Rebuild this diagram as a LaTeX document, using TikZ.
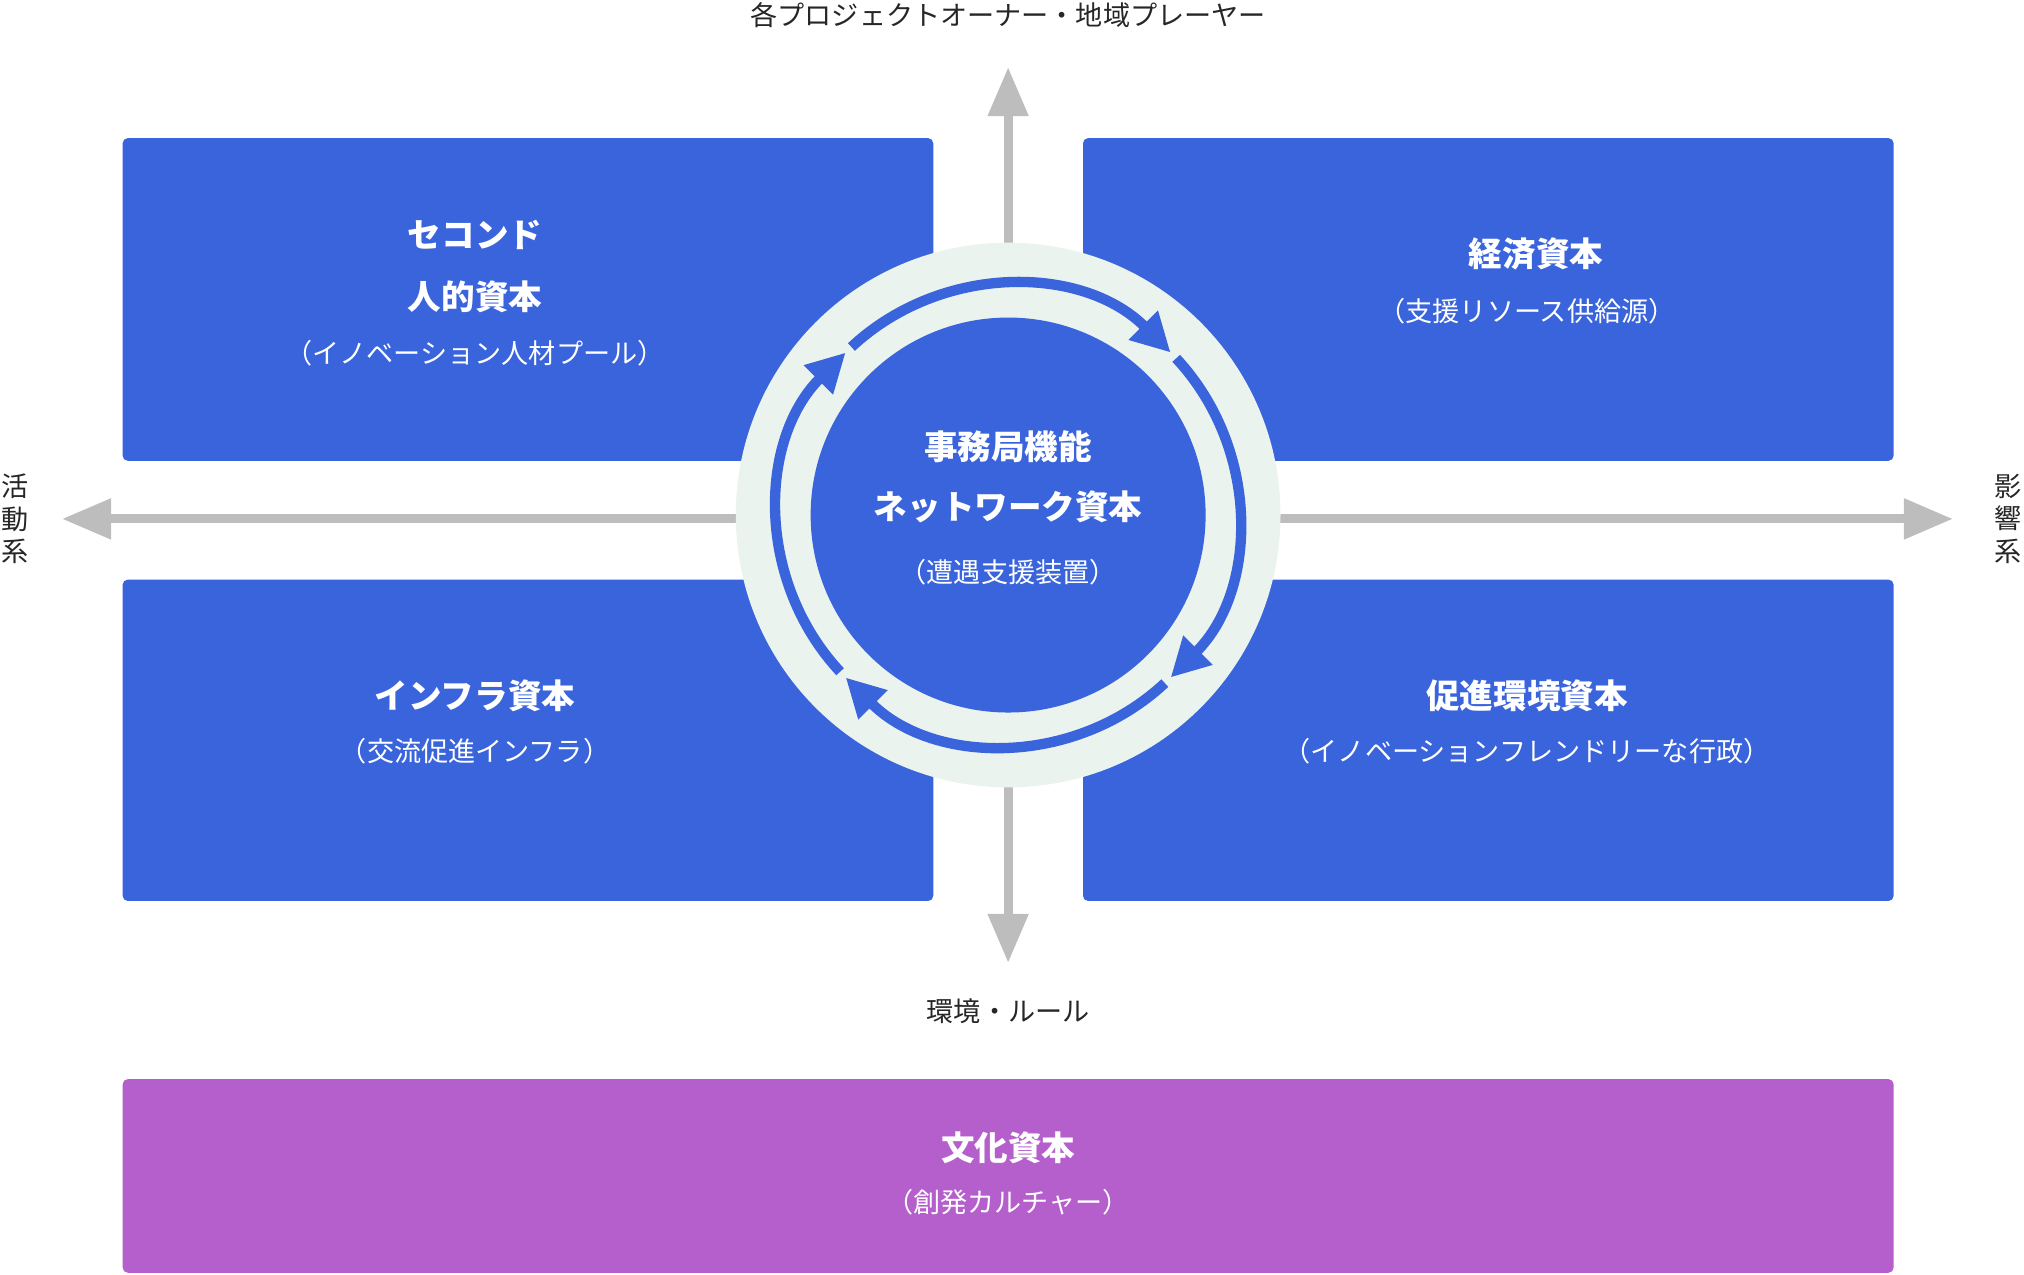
\documentclass[tikz,border=0pt]{standalone}
\usepackage{fontspec}
\setmainfont{Noto Sans CJK JP}
\usetikzlibrary{arrows.meta,calc}
\definecolor{boxblue}{HTML}{3A64DC}
\definecolor{boxpurple}{HTML}{B45FCC}
\definecolor{ringbg}{HTML}{EAF3EE}
\definecolor{axisgray}{HTML}{BDBDBD}
\tikzset{
  quad/.style={fill=boxblue,rounded corners=4pt},
  ttl/.style={text=white,font=\fontsize{26}{30}\selectfont\bfseries},
  sub/.style={text=white,font=\fontsize{21}{26}\selectfont},
  lbl/.style={text=black!85,font=\fontsize{21}{26}\selectfont},
  axis/.style={draw=axisgray,line width=7pt,-{Triangle[width=30pt,length=38pt]}},
  cyc/.style={draw=boxblue,line width=8pt,-{Triangle[width=30pt,length=30pt]}}
}
\begin{document}
\begin{tikzpicture}[x=1pt,y=-1pt]
\useasboundingbox (0,0) rectangle (1568,987);
\fill[quad] (95,107) rectangle (723,357);
\fill[quad] (839,107) rectangle (1467,357);
\fill[quad] (95,449) rectangle (723,698);
\fill[quad] (839,449) rectangle (1467,698);
\fill[fill=boxpurple,rounded corners=4pt] (95,836) rectangle (1467,986);
\coordinate (c) at (781,399);
\coordinate (top) at (781,52);
\coordinate (bot) at (781,746);
\coordinate (lft) at (48,402);
\coordinate (rgt) at (1513,402);
\draw[axis] (781,188) -- (top);
\draw[axis] (781,610) -- (bot);
\draw[axis] (570,402) -- (lft);
\draw[axis] (991,402) -- (rgt);
\fill[ringbg] (c) circle (211);
\fill[boxblue] (c) circle (153);
\begin{scope}[shift={(c)},x=1pt,y=1pt]
\foreach \a in {45,-45,-135,135}{
  \draw[cyc] (\a+88:178) arc[start angle=\a+88,end angle=\a,radius=178];
}
\end{scope}
\node[ttl] (n1) at (368,182) {セコンド};
\node[ttl] (n2) at (368,230) {人的資本};
\node[sub] (n3) at (368,274) {（イノベーション人材プール）};
\node[ttl] (e1) at (1190,197) {経済資本};
\node[sub] (e2) at (1183,241) {（支援リソース供給源）};
\node[ttl] (i1) at (368,539) {インフラ資本};
\node[sub] (i2) at (368,582) {（交流促進インフラ）};
\node[ttl] (p1) at (1183,539) {促進環境資本};
\node[sub] (p2) at (1183,582) {（イノベーションフレンドリーな行政）};
\node[ttl] (s1) at (781,346) {事務局機能};
\node[ttl] (s2) at (781,393) {ネットワーク資本};
\node[sub] (s3) at (781,443) {（遭遇支援装置）};
\node[ttl] (b1) at (781,889) {文化資本};
\node[sub] (b2) at (781,931) {（創発カルチャー）};
\node[lbl] (t) at (781,12) {各プロジェクトオーナー・地域プレーヤー};
\node[lbl] (bt) at (781,783) {環境・ルール};
\node[lbl,align=center,font=\fontsize{21}{25}\selectfont] (l) at (12,402) {活\\動\\系};
\node[lbl,align=center,font=\fontsize{21}{25}\selectfont] (r) at (1556,402) {影\\響\\系};
\end{tikzpicture}
\end{document}
